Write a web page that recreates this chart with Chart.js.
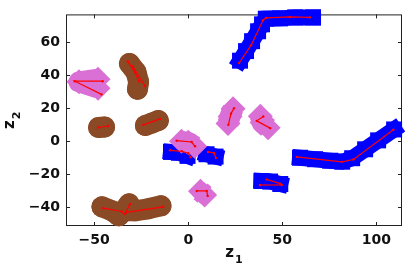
<!DOCTYPE html>
<html>
<head>
<meta charset="utf-8">
<script src="https://cdn.jsdelivr.net/npm/chart.js@4/dist/chart.umd.min.js"></script>
<style>
  html, body { margin: 0; padding: 0; background: #fff; }
  #wrap { width: 415px; height: 274px; }
</style>
</head>
<body>
<div id="wrap"><canvas id="c" width="415" height="274"></canvas></div>
<script>
// axis ticks and titles
const xTicks = [-50, 0, 50, 100];
const yTicks = [-40, -20, 0, 20, 40, 60];
const xTitle = ['z', '1'];
const yTitle = ['z', '2'];

// trails (marker centres)
const blueTop = [[27.5, 48.8], [30.7, 54.6], [33.9, 60.6], [37.1, 66.6], [39.2, 70.8], [41.2, 74.2], [48.8, 74.4], [56.8, 75], [66.3, 75]];
const blueRight = [[59.4, -9.9], [67.4, -10.8], [75.4, -11.7], [81.8, -12.3], [87.1, -10.2], [94, -4.8], [100.9, 0.6], [109.4, 7.2]];
const blueSmall = [[38.9, -24], [43.5, -24.3], [48.9, -25.8]];
const blueMidL = [[-9.2, -6.4], [-5, -6.9], [-0.4, -8.8]];
const blueMidR = [[9.7, -7.8], [14.5, -9.2]];

const brownUpper = [[-31.3, 47.1], [-27.8, 42], [-26.4, 36], [-27, 31.5]];
const brownSmall = [[-47.7, 8.4], [-44.5, 8.7]];
const brownMid = [[-22.8, 9.6], [-19.3, 11.1], [-15.9, 12.6]];
const brownLowA = [[-45.9, -39.6], [-40.6, -42], [-36.9, -45], [-34.2, -42], [-31.5, -37.8]];
const brownLowB = [[-34.2, -42], [-28.4, -42], [-21.4, -40.8], [-14.5, -39]];

const pinkTopLeft = [[-48, 37.6], [-58.1, 36], [-48, 32.2]];
const pinkTopMid = [[-3.6, 0], [0, -0.6], [3.4, -3]];
const pinkLowMid = [[6.5, -30.2], [8.7, -32.4]];
const pinkPairL = [[23.8, 19.8], [22.2, 15], [21.1, 10.8]];
const pinkPairR = [[38.3, 15.2], [39.2, 11.4], [42.4, 8.2]];

// red mean paths
const redPaths = [
  [[-45.5, 36.4], [-60.3, 36.4], [-46.1, 28.4]],
  [[-32.2, 48.4], [-28.5, 42], [-26.1, 36.2]],
  [[-29.6, 45.5], [-23, 33.5]],
  [[-47.9, 8.4], [-42.7, 9.3]],
  [[-23.9, 10], [-15, 13.6]],
  [[-45.2, -40.4], [-35.4, -42.4], [-33.7, -44], [-31, -38]],
  [[-33, -43], [-13.3, -39.6]],
  [[-6.2, 0.4], [1.8, -0.4], [3.6, -3]],
  [[-9.7, -5.4], [-3.4, -6], [0, -7.2], [1.3, -9.6]],
  [[10.5, -6.4], [13.7, -7], [14.7, -10]],
  [[4.5, -30], [9.8, -30], [10.3, -33]],
  [[24.3, 20], [22.7, 16.8], [21.3, 10]],
  [[39.9, 15], [36.4, 12.4], [43.5, 8]],
  [[27, 47.4], [33.4, 58.2], [39.7, 73.2], [41.3, 74.7], [54.1, 75.3], [64.7, 75]],
  [[57.7, -9.4], [81.6, -12.4], [87.8, -11], [109, 7]],
  [[38.1, -26.4], [49.7, -26.4]],
  [[41.7, -23], [48.8, -25.6]]
];

const BLUE = '#0000ff';
const BROWN = '#8b4a26';
const PINK = '#da70d6';
const RED = '#ff0000';

function pts(arr) {
  return arr.map(p => ({ x: p[0], y: p[1] }));
}

const looks = {
  blue: { w: 16, cap: 'square', join: 'miter', style: 'rect', r: 11.3, order: 4 },
  brown: { w: 21, cap: 'round', join: 'round', style: 'circle', r: 10.5, order: 3 },
  pink: { w: 21, cap: 'butt', join: 'round', style: 'rectRot', r: 12.5, order: 2 }
};

function trail(arr, color, kind) {
  const s = looks[kind];
  return {
    data: pts(arr),
    order: s.order,
    showLine: true,
    borderColor: color,
    backgroundColor: color,
    borderWidth: s.w,
    borderCapStyle: s.cap,
    borderJoinStyle: s.join,
    pointStyle: s.style,
    pointRadius: s.r,
    pointBorderWidth: 0,
    pointBackgroundColor: color,
    tension: 0,
    clip: false
  };
}

const datasets = [];
[blueTop, blueRight, blueSmall, blueMidL, blueMidR].forEach(a => datasets.push(trail(a, BLUE, 'blue')));
[brownUpper, brownSmall, brownMid, brownLowA, brownLowB].forEach(a => datasets.push(trail(a, BROWN, 'brown')));
[pinkTopLeft, pinkTopMid, pinkLowMid, pinkPairL, pinkPairR].forEach(a => datasets.push(trail(a, PINK, 'pink')));
redPaths.forEach(a => datasets.push({
  data: pts(a),
  order: 1,
  showLine: true,
  borderColor: RED,
  backgroundColor: RED,
  borderWidth: 1.2,
  pointRadius: 1.2,
  pointBorderWidth: 0,
  tension: 0,
  clip: false
}));

// box round the plot with ticks pointing inward, and the subscripted axis titles
const frame = {
  id: 'frame',
  beforeDatasetsDraw(chart) {
    const { ctx, chartArea: a, scales } = chart;
    ctx.save();
    ctx.strokeStyle = '#222';
    ctx.lineWidth = 1;
    ctx.strokeRect(a.left + 0.5, a.top + 0.5, a.right - a.left - 1, a.bottom - a.top - 1);
    ctx.beginPath();
    xTicks.forEach(v => {
      const px = Math.round(scales.x.getPixelForValue(v)) + 0.5;
      ctx.moveTo(px, a.bottom); ctx.lineTo(px, a.bottom - 4);
      ctx.moveTo(px, a.top); ctx.lineTo(px, a.top + 4);
    });
    yTicks.forEach(v => {
      const py = Math.round(scales.y.getPixelForValue(v)) + 0.5;
      ctx.moveTo(a.left, py); ctx.lineTo(a.left + 4, py);
      ctx.moveTo(a.right, py); ctx.lineTo(a.right - 4, py);
    });
    ctx.stroke();
    ctx.restore();
  },
  afterDraw(chart) {
    const { ctx, chartArea: a } = chart;
    const big = 'bold 15px "DejaVu Sans"';
    const small = 'bold 11px "DejaVu Sans"';
    function sub(parts, x, y) {
      ctx.font = big;
      const w1 = ctx.measureText(parts[0]).width;
      ctx.font = small;
      const w2 = ctx.measureText(parts[1]).width;
      const x0 = x - (w1 + w2 + 1) / 2;
      ctx.font = big;
      ctx.fillText(parts[0], x0, y);
      ctx.font = small;
      ctx.fillText(parts[1], x0 + w1 + 1, y + 6);
    }
    ctx.save();
    ctx.fillStyle = '#111';
    ctx.textBaseline = 'alphabetic';
    ctx.textAlign = 'left';
    sub(xTitle, (a.left + a.right) / 2, 257);
    ctx.translate(14, (a.top + a.bottom) / 2);
    ctx.rotate(-Math.PI / 2);
    sub(yTitle, 0, 0);
    ctx.restore();
  }
};

const tickFont = { family: 'DejaVu Sans', size: 14, weight: 'bold' };
const fmt = v => (v < 0 ? '\u2212' + Math.abs(v) : String(v));

new Chart(document.getElementById('c'), {
  type: 'scatter',
  data: { datasets },
  options: {
    responsive: false,
    animation: false,
    events: [],
    layout: { padding: { top: 12, right: 13, left: 0, bottom: 0 } },
    plugins: { legend: { display: false }, tooltip: { enabled: false } },
    scales: {
      x: {
        min: -65, max: 113.6,
        afterBuildTicks: s => { s.ticks = xTicks.map(v => ({ value: v })); },
        afterFit: s => { s.height = 48; },
        grid: { display: false, drawTicks: false },
        border: { display: false },
        ticks: { font: tickFont, color: '#111', padding: 6, maxRotation: 0, callback: fmt }
      },
      y: {
        min: -51.2, max: 76.8,
        afterBuildTicks: s => { s.ticks = yTicks.map(v => ({ value: v })); },
        afterFit: s => { s.width = 66; },
        grid: { display: false, drawTicks: false },
        border: { display: false },
        ticks: { font: tickFont, color: '#111', padding: 6, callback: fmt }
      }
    }
  },
  plugins: [frame]
});
</script>
</body>
</html>
